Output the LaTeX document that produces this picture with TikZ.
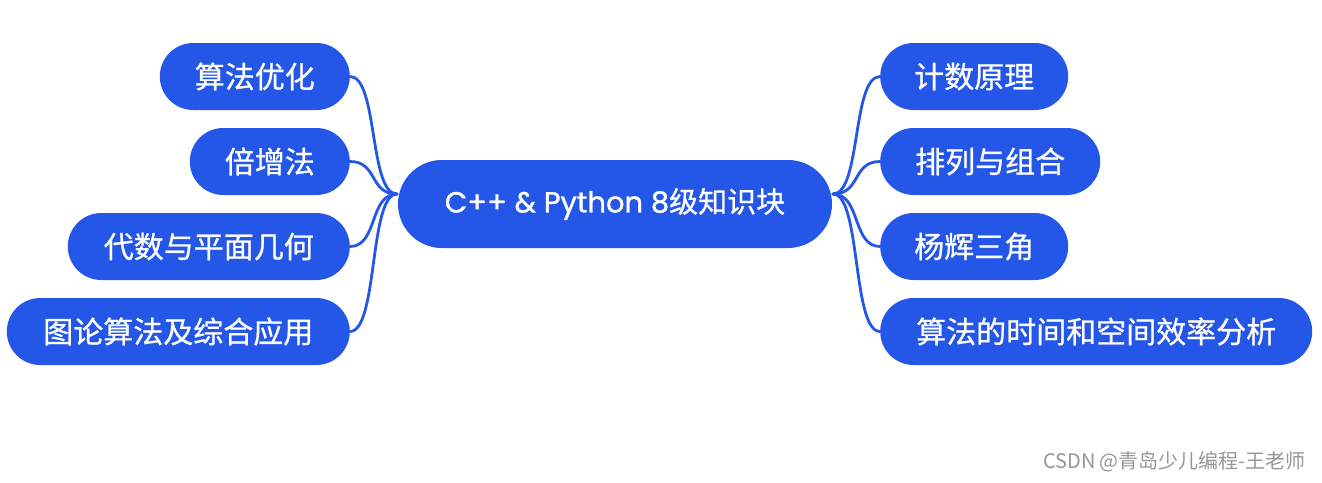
\documentclass[tikz,border=0pt]{standalone}
\usepackage{fontspec}
\setmainfont{Poppins}
\newfontfamily\popb{Poppins}[FakeBold=1.2]
\newfontfamily\cjk{Noto Sans CJK SC}
\newfontfamily\cjkb{Noto Sans CJK SC}[FakeBold=0.8]
\definecolor{mmblue}{RGB}{36,86,232}
\definecolor{wmgray}{RGB}{150,150,150}
\begin{document}
\begin{tikzpicture}[x=1pt,y=-1pt,
  topic/.style={fill=mmblue, text=white, rounded corners=33.5pt, minimum height=67pt,
     inner sep=0pt, align=center, font=\cjkb\fontsize{30}{36}\selectfont},
  root/.style={fill=mmblue, text=white, rounded corners=44pt, minimum height=88pt,
     minimum width=434pt, inner sep=0pt, font=\popb\fontsize{29}{35}\selectfont},
  conn/.style={draw=mmblue, line width=2.8pt, line cap=round}]
\useasboundingbox (0,0) rectangle (1322,482);
\node[root] (c) at (615,204) {C++ \& Python 8{\cjkb 级知识块}};
\coordinate (cl) at (397,194);
\coordinate (cr) at (833,194);
% left
\node[topic, anchor=east, minimum width=190pt] (l1) at (350,76.5) {算法优化};
\node[topic, anchor=east, minimum width=160pt] (l2) at (350,161.5) {倍增法};
\node[topic, anchor=east, minimum width=282pt] (l3) at (350,246.5) {代数与平面几何};
\node[topic, anchor=east, minimum width=343pt] (l4) at (350,331.5) {图论算法及综合应用};
% right
\node[topic, anchor=west, minimum width=188pt] (r1) at (880,76.5) {计数原理};
\node[topic, anchor=west, minimum width=220pt] (r2) at (880,161.5) {排列与组合};
\node[topic, anchor=west, minimum width=188pt] (r3) at (880,246.5) {杨辉三角};
\node[topic, anchor=west, minimum width=432pt] (r4) at (880,331.5) {算法的时间和空间效率分析};
\foreach \n in {l1,l2,l3,l4}{
  \draw[conn] (\n.east) .. controls +(28,0) and +(-28,0) .. (cl);
}
\foreach \n in {r1,r2,r3,r4}{
  \draw[conn] (cr) .. controls +(28,0) and +(-28,0) .. (\n.west);
}
\node[anchor=east, text=wmgray, font=\cjk\fontsize{20}{24}\selectfont, inner sep=0pt] (wm) at (1306,462) {CSDN @青岛少儿编程-王老师};
\end{tikzpicture}
\end{document}
